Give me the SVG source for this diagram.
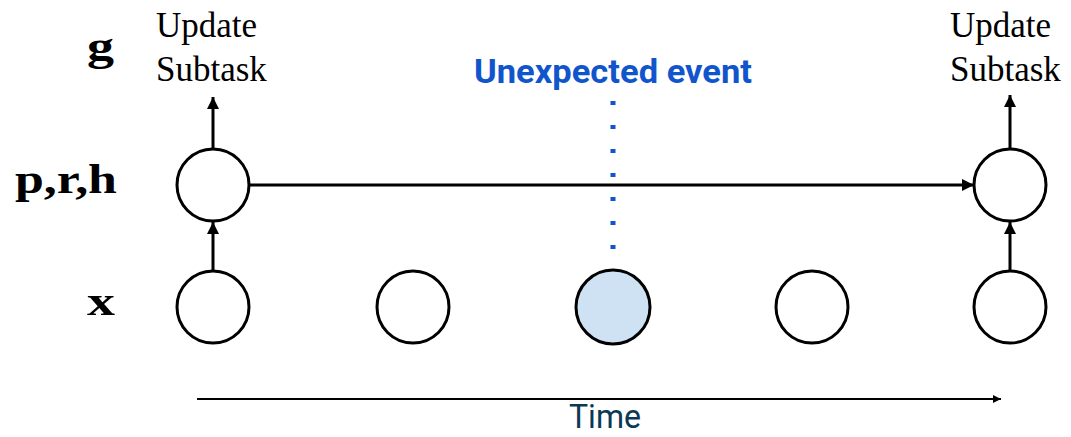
<svg xmlns="http://www.w3.org/2000/svg" width="1071" height="437" viewBox="0 0 1071 437">
<style>
.node{fill:#fff;stroke:#000;stroke-width:3}
.ev{fill:#cfe2f3;stroke:#000;stroke-width:3}
.lbl{font-family:"Liberation Serif",serif;font-weight:bold;font-size:42px;fill:#000}
.upd{font-family:"Liberation Serif",serif;font-size:35px;fill:#000}
.edge{stroke:#000;stroke-width:3;fill:none}
</style>
<defs>
<marker id="ah" viewBox="0 0 10 10" refX="10" refY="5" markerWidth="4" markerHeight="4" orient="auto" markerUnits="strokeWidth">
<path d="M0,0 L10,5 L0,10 z" fill="#000"/>
</marker>
<marker id="ah2" viewBox="0 0 10 10" refX="10" refY="5" markerWidth="5" markerHeight="4" orient="auto" markerUnits="strokeWidth">
<path d="M0,0 L10,5 L0,10 z" fill="#000"/>
</marker>
</defs>
<rect width="1071" height="437" fill="#fff"/>
<text class="lbl" x="87" y="60" textLength="27" lengthAdjust="spacingAndGlyphs">g</text>
<text class="lbl" x="15" y="193" textLength="102" lengthAdjust="spacingAndGlyphs">p,r,h</text>
<text class="lbl" x="87" y="315" textLength="28" lengthAdjust="spacingAndGlyphs">x</text>
<g id="upd-left"><text class="upd" x="156" y="37">Update</text><text class="upd" x="156" y="81">Subtask</text></g>
<g id="upd-right"><text class="upd" x="950" y="37">Update</text><text class="upd" x="950" y="81">Subtask</text></g>
<g id="event-label"><text x="613" y="83" text-anchor="middle" font-family="Roboto,sans-serif" font-weight="bold" font-size="34" fill="#1155cc" textLength="278" lengthAdjust="spacingAndGlyphs">Unexpected event</text></g>
<g id="connectors">
<line class="edge" x1="213" y1="148" x2="213" y2="97" marker-end="url(#ah)"/>
<line class="edge" x1="1010" y1="148" x2="1010" y2="95" marker-end="url(#ah)"/>
<line class="edge" x1="213" y1="271" x2="213" y2="222" marker-end="url(#ah)"/>
<line class="edge" x1="1010" y1="271" x2="1010" y2="222" marker-end="url(#ah)"/>
<line class="edge" x1="250" y1="185" x2="974" y2="185" marker-end="url(#ah)"/>
<line x1="613" y1="101" x2="613" y2="251" stroke="#1155cc" stroke-width="5" stroke-dasharray="4 20"/>
<line x1="197" y1="399" x2="1001" y2="399" stroke="#000" stroke-width="2" marker-end="url(#ah2)"/>
</g>
<g id="h1"><circle class="node" cx="213" cy="185" r="36"/></g>
<g id="h5"><circle class="node" cx="1010" cy="185" r="36"/></g>
<g id="x1"><circle class="node" cx="213" cy="307" r="36"/></g>
<g id="x2"><circle class="node" cx="413" cy="307" r="36"/></g>
<g id="x3"><circle class="ev" cx="613" cy="307" r="37"/></g>
<g id="x4"><circle class="node" cx="812" cy="307" r="36"/></g>
<g id="x5"><circle class="node" cx="1010" cy="307" r="36"/></g>
<g id="time-label"><text x="605" y="428" text-anchor="middle" font-family="Roboto,sans-serif" font-size="33" fill="#0b3954" textLength="72" lengthAdjust="spacingAndGlyphs">Time</text></g>
</svg>
